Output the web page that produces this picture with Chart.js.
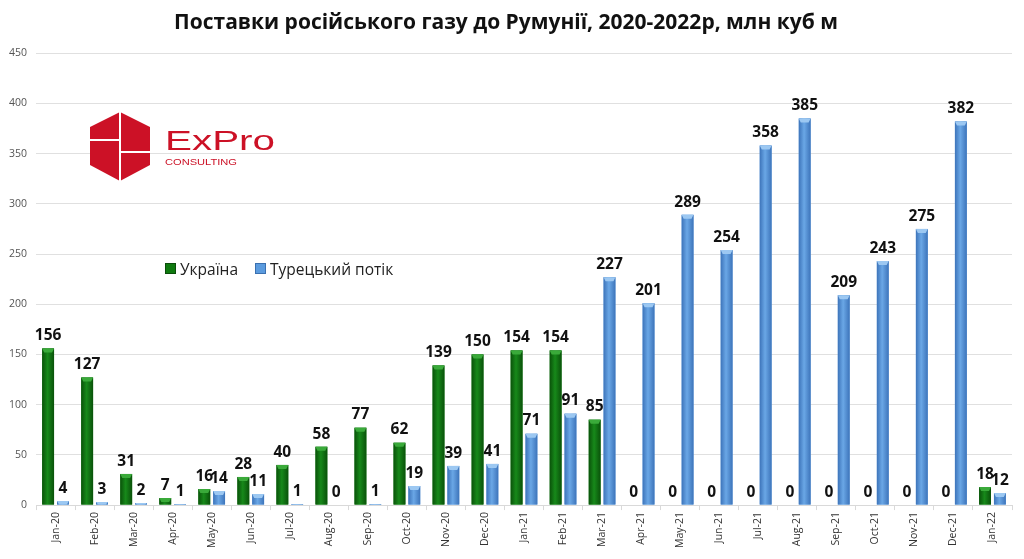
<!DOCTYPE html>
<html>
<head>
<meta charset="utf-8">
<script src="https://cdn.jsdelivr.net/npm/chart.js@4.4.1/dist/chart.umd.min.js"></script>
<style>
  html, body { margin: 0; padding: 0; background: #fff; }
  #wrap { position: relative; width: 1024px; height: 559px; }
  #legend {
    position: absolute; left: 165px; top: 258px;
    font: 15.5px "Open Sans", sans-serif; color: #222;
    display: flex; gap: 17px; align-items: center;
  }
  #legend span.box { display: inline-block; width: 9px; height: 9px; margin-right: 4px; vertical-align: 1px; }
  #logo { position: absolute; left: 88px; top: 110px; }
</style>
</head>
<body>
<div id="wrap">
  <canvas id="chart" width="1024" height="559"></canvas>
  <div id="legend">
    <div><span class="box" style="background:#0f7a0f;border:1px solid #0a4d0a"></span>Україна</div>
    <div><span class="box" style="background:#5b9bde;border:1px solid #3a70b0"></span>Турецький потік</div>
  </div>
  <svg id="logo" width="200" height="74" viewBox="0 0 200 74">
    <polygon points="32,2 62,17 62,55 32,71 2,55 2,17" fill="#cc1126"/>
    <line x1="32" y1="0" x2="32" y2="73" stroke="#fff" stroke-width="2"/>
    <line x1="0" y1="30" x2="32" y2="30" stroke="#fff" stroke-width="2"/>
    <line x1="32" y1="42" x2="64" y2="42" stroke="#fff" stroke-width="2"/>
    <text x="77" y="40" font-family="Liberation Sans, Arial, sans-serif" font-size="27" fill="#cc1126" textLength="110" lengthAdjust="spacingAndGlyphs">ExPro</text>
    <text x="77" y="55" font-family="Liberation Sans, Arial, sans-serif" font-size="9.5" fill="#cc1126" textLength="72" lengthAdjust="spacingAndGlyphs">CONSULTING</text>
  </svg>
</div>
<script>
const months = ['Jan-20','Feb-20','Mar-20','Apr-20','May-20','Jun-20','Jul-20','Aug-20','Sep-20','Oct-20','Nov-20','Dec-20',
  'Jan-21','Feb-21','Mar-21','Apr-21','May-21','Jun-21','Jul-21','Aug-21','Sep-21','Oct-21','Nov-21','Dec-21','Jan-22'];
const ukraine = [156,127,31,7,16,28,40,58,77,62,139,150,154,154,85,0,0,0,0,0,0,0,0,0,18];
const turkStream = [4,3,2,1,14,11,1,0,1,19,39,41,71,91,227,201,289,254,358,385,209,243,275,382,12];
const yTicks = [0,50,100,150,200,250,300,350,400,450];

const palettes = [
  { edge: '#0a520a', mid: '#17891a', cap: '#3aaa3a' },
  { edge: '#3d74ba', mid: '#6aa7e6', cap: '#9cc8f2' }
];

// repaint bars with a cylinder-like horizontal gradient
const barShade = {
  id: 'barShade',
  afterDatasetDraw(chart, args) {
    const ctx = chart.ctx;
    const pal = palettes[args.index];
    args.meta.data.forEach(bar => {
      const { x, y, base, width } = bar.getProps(['x', 'y', 'base', 'width'], true);
      if (base - y < 0.5) return;
      const l = x - width / 2, r = x + width / 2;
      const g = ctx.createLinearGradient(l, 0, r, 0);
      g.addColorStop(0, pal.edge);
      g.addColorStop(0.45, pal.mid);
      g.addColorStop(1, pal.edge);
      ctx.save();
      ctx.fillStyle = g;
      ctx.fillRect(l, y, width, base - y);
      const capH = Math.min(4, base - y);
      ctx.fillStyle = pal.cap;
      ctx.beginPath();
      ctx.moveTo(l, y);
      ctx.lineTo(r, y);
      ctx.lineTo(r - 2, y + capH);
      ctx.lineTo(l + 2, y + capH);
      ctx.closePath();
      ctx.fill();
      ctx.restore();
    });
  }
};

const valueLabels = {
  id: 'valueLabels',
  afterDatasetsDraw(chart) {
    const ctx = chart.ctx;
    ctx.save();
    ctx.font = 'bold 15.5px "Open Sans", sans-serif';
    ctx.fillStyle = '#111';
    ctx.textAlign = 'center';
    ctx.textBaseline = 'bottom';
    chart.data.datasets.forEach((ds, i) => {
      chart.getDatasetMeta(i).data.forEach((bar, j) => {
        ctx.fillText(String(ds.data[j]), bar.x, bar.y - 5);
      });
    });
    ctx.restore();
  }
};

new Chart(document.getElementById('chart'), {
  type: 'bar',
  data: {
    labels: months,
    datasets: [
      { label: 'Україна', data: ukraine, backgroundColor: '#17891a', categoryPercentage: 0.76, barPercentage: 0.8 },
      { label: 'Турецький потік', data: turkStream, backgroundColor: '#6aa7e6', categoryPercentage: 0.76, barPercentage: 0.8 }
    ]
  },
  options: {
    responsive: false,
    animation: false,
    layout: { padding: { left: 0, right: 12, top: 2, bottom: 9 } },
    plugins: {
      legend: { display: false },
      tooltip: { enabled: false },
      title: {
        display: true,
        text: 'Поставки російського газу до Румунії, 2020-2022р, млн куб м',
        font: { family: '"Open Sans", sans-serif', size: 21, weight: 'bold' },
        color: '#111',
        padding: { top: 8, bottom: 18 }
      }
    },
    scales: {
      x: {
        grid: { offset: true, drawOnChartArea: false, drawTicks: true, tickLength: 5, color: '#d9d9d9' },
        border: { color: '#d9d9d9' },
        ticks: { minRotation: 90, maxRotation: 90, color: '#333', font: { size: 10.5, family: '"Open Sans", sans-serif' }, padding: 2 }
      },
      y: {
        min: 0, max: 450,
        afterBuildTicks: axis => { axis.ticks = yTicks.map(v => ({ value: v })); },
        grid: { color: '#e0e0e0', drawTicks: false },
        border: { display: false },
        ticks: { color: '#555', font: { size: 10.5, family: '"Open Sans", sans-serif' }, padding: 9 }
      }
    }
  },
  plugins: [barShade, valueLabels]
});
</script>
</body>
</html>
